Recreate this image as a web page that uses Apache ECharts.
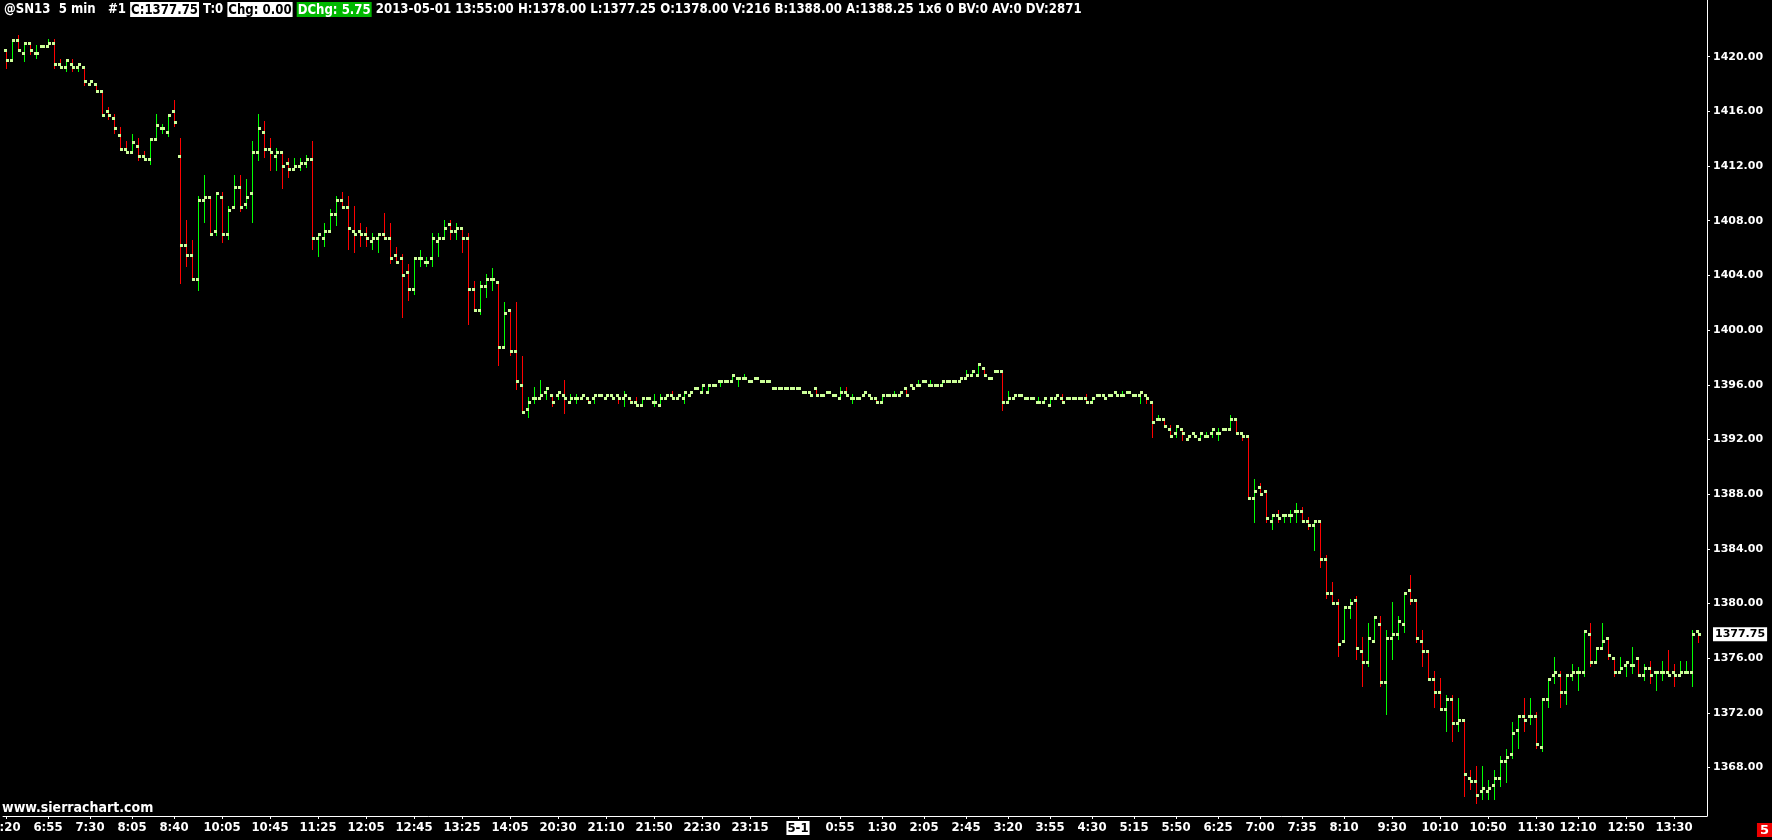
<!DOCTYPE html>
<html>
<head>
<meta charset="utf-8">
<script src="https://cdn.jsdelivr.net/npm/echarts@6/dist/echarts.min.js"></script>
<style>
html,body{margin:0;padding:0;background:#000;}
#c{width:1772px;height:840px;}
</style>
</head>
<body>
<div id="c"></div>
<script>
// ---- OHLC values (5 min bars) ----
const opens = [
1420.5,1419.75,1421.25,1420.25,1421.0,1420.25,1420.75,1420.75,1421.0,1419.5,
1419.25,1419.5,1419.25,1419.25,1418.0,1418.0,1417.5,1416.0,1415.5,1414.25,
1413.25,1413.0,1413.5,1412.75,1412.5,1414.0,1414.75,1414.5,1416.0,1412.75,
1406.25,1405.5,1403.75,1409.5,1409.75,1407.25,1409.75,1407.0,1409.0,1410.5,
1409.25,1410.0,1413.0,1414.5,1413.25,1412.75,1413.0,1412.25,1411.75,1412.0,
1412.25,1412.5,1406.75,1406.75,1407.25,1408.5,1409.5,1409.0,1407.25,1407.25,
1407.0,1406.5,1406.75,1407.0,1406.75,1405.5,1405.25,1404.25,1403.0,1405.25,
1405.0,1405.25,1406.5,1406.75,1407.75,1407.25,1407.5,1406.75,1403.0,1401.5,
1403.25,1403.75,1403.5,1398.75,1401.5,1398.5,1396.0,1394.25,1395.0,1395.0,
1395.5,1395.25,1395.25,1395.25,1394.75,1395.0,1395.0,1395.0,1395.0,1395.25,
1395.0,1395.25,1395.25,1395.0,1395.0,1394.75,1394.5,1395.0,1394.75,1394.5,
1395.0,1395.25,1395.0,1395.0,1395.25,1395.75,1395.5,1395.5,1396.0,1396.25,
1396.25,1396.25,1396.5,1396.5,1396.25,1396.5,1396.25,1396.25,1395.75,1395.75,
1395.75,1395.75,1395.75,1395.5,1395.5,1395.75,1395.25,1395.5,1395.25,1395.0,
1395.5,1395.0,1395.0,1395.25,1395.25,1395.0,1394.75,1395.25,1395.25,1395.25,
1395.75,1396.0,1396.0,1396.25,1396.0,1396.0,1396.0,1396.25,1396.25,1396.25,
1396.5,1396.75,1396.75,1397.25,1396.5,1397.0,1397.0,1394.75,1395.0,1395.25,
1395.0,1395.0,1394.75,1394.75,1394.5,1395.0,1395.0,1395.0,1395.0,1395.0,
1395.0,1394.75,1395.25,1395.25,1395.25,1395.5,1395.25,1395.5,1395.25,1395.25,
1395.25,1394.75,1393.5,1393.5,1392.75,1392.5,1392.75,1392.0,1392.5,1392.0,
1392.25,1392.5,1392.5,1392.75,1392.75,1393.5,1392.5,1392.25,1387.75,1388.5,
1388.25,1386.0,1386.5,1386.5,1386.5,1386.75,1386.75,1386.0,1385.75,1386.0,
1383.25,1380.75,1380.0,1377.25,1379.75,1380.25,1376.5,1375.75,1377.25,1378.5,
1374.25,1377.5,1377.75,1378.5,1381.0,1380.25,1377.25,1376.5,1374.5,1373.5,
1372.25,1373.0,1371.25,1371.5,1367.25,1367.0,1366.25,1366.25,1366.75,1367.25,
1368.5,1369.0,1370.75,1371.75,1371.75,1371.75,1369.5,1373.0,1374.75,1374.75,
1373.5,1374.75,1375.0,1375.0,1377.75,1375.75,1376.75,1377.5,1376.0,1375.0,
1375.5,1375.5,1376.0,1374.75,1375.25,1375.0,1375.0,1375.0,1375.0,1374.75,
1375.0,1375.0,1378.0
];
const highs = [
1420.5,1421.25,1421.5,1421.0,1421.0,1420.75,1420.75,1421.25,1421.25,1419.75,
1419.75,1419.75,1419.5,1419.25,1418.25,1418.0,1417.5,1416.25,1415.75,1414.75,
1413.75,1414.25,1414.0,1413.0,1414.0,1415.75,1415.0,1415.75,1416.75,1414.0,
1408.0,1406.5,1409.75,1411.25,1409.75,1410.0,1410.0,1409.0,1411.25,1411.25,
1411.0,1413.75,1415.75,1415.25,1414.0,1413.25,1413.0,1412.5,1412.5,1412.5,
1412.75,1413.75,1407.0,1407.75,1408.75,1409.75,1410.0,1409.75,1409.0,1407.75,
1407.5,1407.0,1407.0,1408.5,1407.75,1406.0,1405.5,1404.75,1405.25,1405.75,
1405.25,1407.0,1407.0,1408.0,1408.0,1407.75,1407.5,1407.0,1403.5,1403.5,
1404.0,1404.5,1403.5,1402.0,1401.5,1402.0,1398.0,1395.0,1395.75,1396.25,
1395.75,1395.25,1395.5,1396.25,1395.25,1395.25,1395.25,1395.0,1395.25,1395.25,
1395.25,1395.25,1395.25,1395.5,1395.0,1395.0,1395.0,1395.0,1395.25,1395.25,
1395.25,1395.5,1395.25,1395.5,1395.5,1395.75,1396.0,1396.0,1396.0,1396.25,
1396.25,1396.75,1396.5,1396.75,1396.25,1396.5,1396.25,1396.25,1395.75,1395.75,
1395.75,1395.75,1395.75,1395.5,1395.5,1395.75,1395.25,1395.5,1395.25,1395.75,
1395.75,1395.25,1395.0,1395.5,1395.25,1395.0,1395.25,1395.25,1395.5,1395.5,
1395.75,1396.0,1396.25,1396.25,1396.25,1396.0,1396.25,1396.25,1396.25,1396.5,
1397.0,1397.0,1397.5,1397.25,1396.5,1397.0,1397.0,1395.5,1395.25,1395.25,
1395.0,1395.0,1395.0,1395.0,1395.0,1395.25,1395.25,1395.0,1395.0,1395.0,
1395.25,1395.0,1395.25,1395.25,1395.25,1395.5,1395.5,1395.5,1395.25,1395.5,
1395.25,1394.75,1393.75,1393.5,1393.0,1393.0,1392.75,1392.25,1392.5,1392.5,
1392.5,1392.75,1392.75,1392.75,1393.75,1393.5,1392.5,1392.25,1389.0,1388.75,
1388.25,1386.5,1386.75,1386.5,1386.75,1387.25,1387.0,1386.25,1386.0,1386.0,
1383.5,1381.5,1380.25,1379.75,1380.25,1380.5,1377.5,1378.5,1379.0,1379.0,
1378.0,1380.0,1379.0,1380.75,1382.0,1380.25,1378.0,1376.5,1375.0,1374.5,
1373.25,1373.25,1373.0,1371.5,1367.75,1368.0,1368.0,1367.0,1367.75,1368.75,
1369.25,1371.25,1371.75,1373.0,1373.0,1372.0,1373.0,1374.5,1376.0,1375.0,
1374.75,1375.5,1375.25,1378.0,1378.5,1376.75,1378.5,1377.5,1376.0,1376.0,
1375.75,1376.75,1376.0,1375.5,1375.75,1375.0,1375.75,1376.5,1375.5,1375.75,
1375.75,1378.0,1378.0
];
const lows = [
1419.25,1419.75,1420.5,1419.75,1420.25,1420.0,1420.75,1420.75,1419.25,1419.25,
1419.0,1419.0,1419.0,1418.0,1418.0,1417.5,1415.75,1415.5,1414.5,1413.25,
1413.0,1413.0,1412.5,1412.5,1412.25,1414.0,1414.5,1414.25,1415.0,1403.5,
1404.75,1403.75,1403.0,1408.0,1407.0,1407.0,1406.5,1406.75,1409.0,1408.75,
1409.0,1408.0,1412.5,1412.75,1411.75,1411.75,1410.5,1411.25,1411.75,1411.75,
1412.0,1406.0,1405.5,1406.25,1407.25,1407.75,1409.0,1406.0,1405.75,1406.25,
1406.25,1406.0,1405.75,1406.75,1405.0,1405.0,1401.0,1402.25,1402.75,1404.75,
1404.75,1404.75,1405.5,1406.75,1406.75,1406.75,1405.75,1400.5,1401.5,1401.25,
1402.5,1403.0,1397.5,1398.75,1398.25,1395.75,1394.0,1393.75,1394.75,1395.0,
1395.0,1394.5,1395.0,1394.0,1394.75,1394.75,1395.0,1394.75,1394.75,1395.25,
1395.0,1395.0,1394.75,1394.5,1394.75,1394.5,1394.5,1395.0,1394.5,1394.5,
1395.0,1395.0,1395.0,1394.75,1395.25,1395.75,1395.5,1395.5,1396.0,1396.0,
1396.25,1396.25,1396.0,1396.5,1396.25,1396.5,1396.25,1396.25,1395.75,1395.75,
1395.75,1395.75,1395.75,1395.5,1395.25,1395.25,1395.25,1395.5,1395.25,1395.0,
1395.25,1394.75,1395.0,1395.25,1395.0,1394.75,1394.75,1395.25,1395.25,1395.25,
1395.25,1395.75,1396.0,1396.25,1396.0,1396.0,1396.0,1396.25,1396.25,1396.25,
1396.5,1396.75,1396.75,1396.75,1396.5,1397.0,1394.25,1394.75,1395.0,1395.25,
1395.0,1395.0,1394.75,1394.75,1394.5,1395.0,1394.75,1395.0,1395.0,1395.0,
1394.75,1394.75,1395.25,1395.0,1395.25,1395.25,1395.25,1395.5,1395.25,1394.75,
1394.75,1392.25,1393.5,1393.0,1392.25,1392.25,1392.0,1392.0,1392.25,1392.0,
1392.25,1392.25,1392.0,1392.75,1392.75,1392.5,1392.0,1387.75,1386.0,1388.0,
1386.0,1385.5,1386.0,1386.0,1386.0,1386.0,1386.0,1385.5,1384.0,1382.75,
1380.5,1380.0,1376.25,1377.25,1379.0,1376.0,1374.0,1375.5,1377.25,1374.0,
1372.0,1376.0,1377.5,1378.0,1380.0,1377.25,1375.5,1374.5,1372.5,1372.25,
1370.75,1370.0,1370.75,1366.0,1366.5,1365.5,1365.75,1365.75,1365.75,1366.75,
1367.0,1368.75,1369.5,1370.75,1371.25,1369.5,1369.25,1372.5,1374.25,1372.5,
1372.75,1374.5,1373.75,1374.75,1375.5,1375.75,1376.75,1376.0,1374.75,1375.0,
1374.75,1375.0,1374.75,1374.5,1374.25,1373.75,1374.5,1374.75,1374.0,1374.75,
1375.0,1374.0,1377.25
];
const closes = [
1419.75,1421.25,1420.5,1421.0,1420.5,1420.25,1420.75,1421.0,1419.5,1419.25,
1419.75,1419.25,1419.5,1418.25,1418.25,1417.5,1415.75,1415.75,1414.75,1413.25,
1413.0,1413.75,1412.75,1412.5,1414.0,1415.0,1414.75,1415.75,1415.25,1406.25,
1405.5,1403.75,1409.5,1409.75,1407.0,1410.0,1407.0,1408.75,1410.5,1409.0,
1409.75,1413.0,1414.75,1413.25,1413.0,1413.0,1412.0,1411.75,1412.0,1412.25,
1412.5,1406.75,1407.0,1407.25,1408.5,1409.5,1409.0,1407.5,1407.0,1407.0,
1406.75,1406.75,1407.0,1406.75,1405.25,1405.0,1404.0,1403.0,1405.25,1405.25,
1405.0,1406.75,1406.75,1407.5,1407.25,1407.5,1406.75,1403.0,1401.5,1403.25,
1403.75,1403.75,1398.75,1401.25,1398.5,1396.25,1394.0,1394.75,1395.0,1395.25,
1395.75,1394.75,1395.5,1395.0,1395.0,1395.0,1395.25,1394.75,1395.25,1395.25,
1395.25,1395.0,1395.0,1395.25,1394.75,1394.5,1395.0,1395.0,1394.75,1395.0,
1395.25,1395.0,1395.25,1395.5,1395.5,1395.75,1396.0,1396.0,1396.0,1396.25,
1396.25,1396.75,1396.5,1396.5,1396.25,1396.5,1396.25,1396.25,1395.75,1395.75,
1395.75,1395.75,1395.75,1395.5,1395.25,1395.25,1395.25,1395.5,1395.25,1395.5,
1395.25,1395.0,1395.0,1395.5,1395.0,1394.75,1395.25,1395.25,1395.25,1395.5,
1395.25,1395.75,1396.0,1396.25,1396.0,1396.0,1396.25,1396.25,1396.25,1396.5,
1396.75,1397.0,1397.5,1396.75,1396.5,1397.0,1394.75,1395.0,1395.25,1395.25,
1395.0,1395.0,1394.75,1395.0,1395.0,1395.25,1394.75,1395.0,1395.0,1395.0,
1394.75,1395.0,1395.25,1395.0,1395.25,1395.25,1395.25,1395.5,1395.25,1395.5,
1395.0,1393.25,1393.5,1393.0,1392.25,1393.0,1392.5,1392.25,1392.25,1392.5,
1392.25,1392.75,1392.5,1392.75,1393.5,1392.5,1392.25,1387.75,1388.25,1388.0,
1386.25,1386.5,1386.25,1386.5,1386.5,1386.75,1386.0,1385.75,1386.0,1383.25,
1380.75,1380.0,1377.0,1379.75,1380.0,1376.75,1375.75,1377.5,1379.0,1374.25,
1377.5,1377.75,1378.75,1380.75,1380.25,1377.5,1376.5,1374.5,1373.5,1372.25,
1373.0,1371.25,1371.5,1367.5,1367.0,1366.0,1366.5,1366.5,1367.25,1368.5,
1368.75,1370.5,1371.75,1371.5,1371.75,1369.75,1373.0,1374.5,1375.0,1373.5,
1374.75,1375.0,1375.0,1378.0,1375.75,1376.75,1377.25,1376.25,1375.0,1375.25,
1375.75,1375.5,1374.75,1375.25,1374.75,1375.0,1375.0,1374.75,1374.75,1375.0,
1375.0,1377.75,1377.75
];

// ---- axis tick labels ----
const timeTickBars = [0,7,14,21,28,36,44,52,60,68,76,84,92,100,108,116,124,132,139,146,153,160,167,174,181,188,195,202,209,216,223,231,239,247,255,262,270,278];
const timeTickLabels = ['6:20','6:55','7:30','8:05','8:40','10:05','10:45','11:25','12:05','12:45','13:25','14:05','20:30','21:10','21:50','22:30','23:15','5-1','0:55','1:30','2:05','2:45','3:20','3:55','4:30','5:15','5:50','6:25','7:00','7:35','8:10','9:30','10:10','10:50','11:30','12:10','12:50','13:30'];
const priceTicks = [1368,1372,1376,1380,1384,1388,1392,1396,1400,1404,1408,1412,1416,1420];

const headerText = '@SN13  5 min   #1 {w|C:1377.75} T:0 {w|Chg: 0.00} {g|DChg: 5.75} 2013-05-01 13:55:00 H:1378.00 L:1377.25 O:1378.00 V:216 B:1388.00 A:1388.25 1x6 0 BV:0 AV:0 DV:2871';

// ---------------------------------------------------------
const n = Math.min(opens.length, highs.length, lows.length, closes.length);
const bars = [];
for (let i = 0; i < n; i++) bars.push([i, opens[i], highs[i], lows[i], closes[i]]);
const lastClose = closes[n - 1];
const labelMap = {};
timeTickBars.forEach((b, k) => { labelMap[b] = timeTickLabels[k]; });

const NARROW = "'Liberation Sans Narrow','DejaVu Sans Condensed','Arial Narrow',sans-serif";
const WIDE = "'DejaVu Sans',Verdana,sans-serif";

function renderItem(params, api) {
  const i = api.value(0);
  const o = api.value(1), h = api.value(2), l = api.value(3), c = api.value(4);
  const pO = api.coord([i, o]);
  const pH = api.coord([i, h]);
  const pL = api.coord([i, l]);
  const pC = api.coord([i, c]);
  const x = Math.floor(pO[0]) + 0.5;
  const yO = Math.round(pO[1]), yC = Math.round(pC[1]);
  const yH = Math.round(pH[1]), yL = Math.round(pL[1]);
  const col = c >= o ? '#00ff00' : '#ff0000';
  const tick = '#ccff99';
  return {
    type: 'group',
    children: [
      { type: 'line', shape: { x1: x, y1: yH - 1, x2: x, y2: yL + 2 }, style: { stroke: col, lineWidth: 1 } },
      { type: 'rect', shape: { x: x - 2.5, y: yO - 1, width: 3, height: 3 }, style: { fill: tick } },
      { type: 'rect', shape: { x: x - 0.5, y: yC - 1, width: 3, height: 3 }, style: { fill: tick } }
    ]
  };
}

const richBase = { fontFamily: NARROW, fontWeight: 'bold', fontSize: 14 };

const chart = echarts.init(document.getElementById('c'), null, { renderer: 'canvas' });
chart.setOption({
  backgroundColor: '#000',
  animation: false,
  grid: { left: 3, right: 65, top: 0, bottom: 24, containLabel: false, outerBoundsMode: 'none', show: false },
  xAxis: {
    type: 'value',
    min: -0.5, max: n + 0.5,
    axisLine: { show: true, onZero: false, lineStyle: { color: '#fff', width: 1 } },
    axisTick: { show: true, customValues: timeTickBars, length: 3, lineStyle: { color: '#fff' } },
    axisLabel: {
      customValues: timeTickBars,
      alignMinLabel: 'center', alignMaxLabel: 'center',
      hideOverlap: false,
      formatter: function (v) {
        const t = labelMap[Math.round(v)] || '';
        return t.indexOf('-') >= 0 ? '{d|' + t + '}' : t;
      },
      color: '#fff', fontFamily: NARROW, fontWeight: 'bold', fontSize: 13, margin: 5,
      rich: { d: { backgroundColor: '#fff', color: '#000', fontFamily: NARROW, fontWeight: 'bold', fontSize: 13, padding: [1, 1, 0, 1] } }
    },
    splitLine: { show: false }
  },
  yAxis: {
    type: 'value',
    position: 'right',
    min: 1364.45, max: 1424.15,
    axisLine: { show: true, onZero: false, lineStyle: { color: '#fff', width: 1 } },
    axisTick: { show: true, customValues: priceTicks, length: 3, lineStyle: { color: '#fff' } },
    axisLabel: {
      customValues: priceTicks,
      formatter: function (v) { return Number(v).toFixed(2); },
      color: '#fff', fontFamily: WIDE, fontWeight: 'bold', fontSize: 11, margin: 6
    },
    splitLine: { show: false }
  },
  series: [
    {
      type: 'custom',
      renderItem: renderItem,
      data: bars,
      encode: { x: 0, y: [1, 2, 3, 4] },
      silent: true
    }
  ],
  graphic: [
    {
      id: 'header', type: 'text', x: 4, y: 2, scaleX: 0.935, scaleY: 1,
      style: {
        text: headerText, fill: '#fff', font: 'bold 14px ' + NARROW,
        rich: {
          w: Object.assign({ backgroundColor: '#fff', fill: '#000', color: '#000', padding: [1, 1, 0, 1] }, richBase),
          g: Object.assign({ backgroundColor: '#00b800', fill: '#fff', color: '#fff', padding: [1, 1, 0, 1] }, richBase)
        }
      }
    },
    { id: 'site', type: 'text', x: 2, y: 801, scaleX: 1.0, style: { text: 'www.sierrachart.com', fill: '#fff', font: 'bold 14px ' + NARROW } },
    { id: 'five', type: 'text', right: 0, bottom: 3, style: { text: '5', fill: '#fff', font: 'bold 13px ' + WIDE, backgroundColor: '#ee0000', padding: [1, 3, 0, 3] } }
  ]
});

// current-price tag on the price axis, placed through the chart's own scales
const py = chart.convertToPixel({ yAxisIndex: 0 }, lastClose);
const px = chart.convertToPixel({ xAxisIndex: 0 }, n + 0.5);
chart.setOption({
  graphic: [
    {
      id: 'lastPrice', type: 'text', x: px + 6, y: py,
      style: {
        text: lastClose.toFixed(2), fill: '#000', font: 'bold 11px ' + WIDE,
        backgroundColor: '#fff', padding: [2, 2, 1, 2], verticalAlign: 'middle', align: 'left'
      }
    }
  ]
});
</script>
</body>
</html>
